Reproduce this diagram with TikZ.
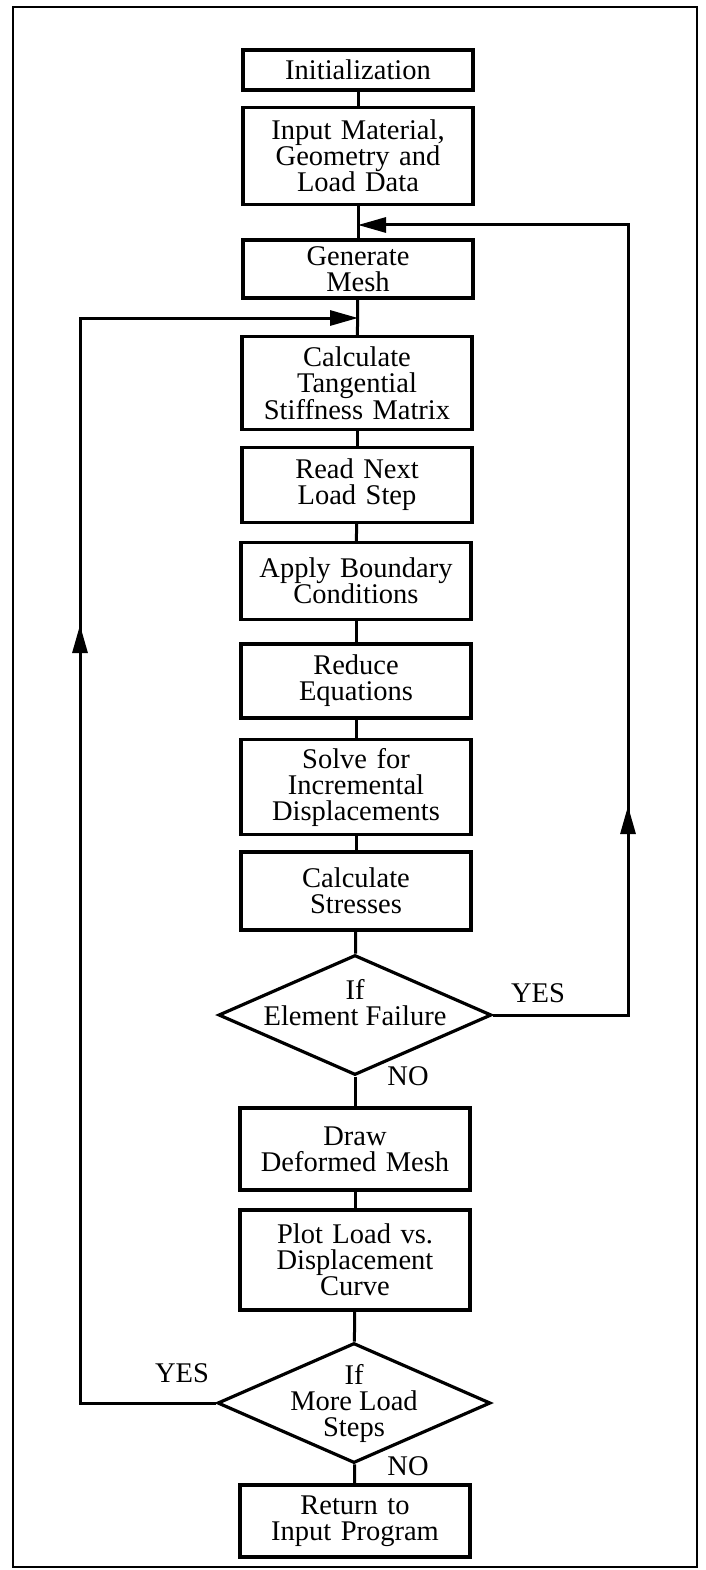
\documentclass[tikz,border=0pt]{standalone}
\usepackage{fontspec}
\setmainfont{Liberation Serif}
\usetikzlibrary{shapes.geometric,arrows.meta}

\tikzset{
  stepbox/.style={draw, line width=3.2pt, minimum width=230pt, text width=226pt,
    align=center, inner sep=0pt, font=\fontsize{28.5}{26}\selectfont},
  decide/.style={diamond, draw, line width=3.2pt, aspect=2.27, minimum width=273pt,
    minimum height=120pt, inner xsep=-30pt, inner ysep=-8pt, align=center,
    font=\fontsize{28.5}{26}\selectfont},
  flow/.style={line width=3pt},
  tip/.style={-{Triangle[length=28pt,width=15pt]}},
  lbl/.style={font=\fontsize{28.5}{28}\selectfont}
}

\begin{document}
\begin{tikzpicture}[x=1pt,y=-1pt]
\useasboundingbox (0,0) rectangle (705,1570);
\draw[line width=1.6pt] (13,7) rectangle (697,1567);

\node[stepbox, minimum height=40pt] (init) at (358,70) {Initialization};
\node[stepbox, minimum height=97pt] (input) at (358,156) {Input Material,\\ Geometry and\\ Load Data};
\node[stepbox, minimum height=58pt] (mesh) at (358,269) {Generate\\ Mesh};
\node[stepbox, minimum height=93pt] (tangent) at (357,383) {Calculate\\ Tangential\\ Stiffness Matrix};
\node[stepbox, minimum height=75pt] (read) at (357,485) {Read Next\\ Load Step};
\node[stepbox, minimum height=77pt] (apply) at (356,581) {Apply Boundary\\ Conditions};
\node[stepbox, minimum height=74pt] (reduce) at (356,681) {Reduce\\ Equations};
\node[stepbox, minimum height=95pt] (solve) at (356,787) {Solve for\\ Incremental\\ Displacements};
\node[stepbox, minimum height=78pt] (stress) at (356,891) {Calculate\\ Stresses};
\node[decide] (fail) at (355,1015) {If\\ Element Failure\\ \mbox{}};
\node[stepbox, minimum height=82pt] (deform) at (355,1149) {Draw\\ Deformed Mesh};
\node[stepbox, minimum height=100pt] (plot) at (355,1260) {Plot Load vs.\\ Displacement\\ Curve};
\node[decide] (more) at (354,1403) {If\\ More Load\\ Steps};
\node[stepbox, minimum height=72pt] (ret) at (355,1521) {Return to\\ Input Program};

\node[lbl] (yes1) at (538,993) {YES};
\node[lbl] (no1) at (408,1076) {NO};
\node[lbl] (yes2) at (182,1373) {YES};
\node[lbl] (no2) at (408,1466) {NO};

\coordinate (upjoin) at (358,225);
\coordinate (rcorner) at (628,225);
\coordinate (rmid) at (628,806);
\coordinate (lowjoin) at (358,318);
\coordinate (lcorner) at (80,318);
\coordinate (lmid) at (80,625);

% main line
\draw[flow] (init) -- (input);
\draw[flow] (input) -- (mesh);
\draw[flow] (mesh) -- (tangent);
\draw[flow] (tangent) -- (read);
\draw[flow] (read) -- (apply);
\draw[flow] (apply) -- (reduce);
\draw[flow] (reduce) -- (solve);
\draw[flow] (solve) -- (stress);
\draw[flow] (stress) -- (fail);
\draw[flow] (fail) -- (deform);
\draw[flow] (deform) -- (plot);
\draw[flow] (plot) -- (more);
\draw[flow] (more) -- (ret);

% loops
\draw[flow,tip] (fail.east) -| (rcorner) -- (upjoin);
\draw[flow,tip] (fail.east -| rcorner) -- (rmid);
\draw[flow,tip] (more.west) -| (lcorner) -- (lowjoin);
\draw[flow,tip] (more.west -| lcorner) -- (lmid);
\end{tikzpicture}
\end{document}
